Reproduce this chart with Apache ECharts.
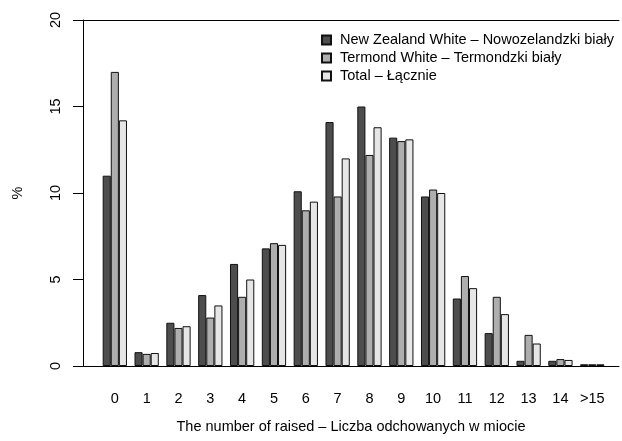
<!DOCTYPE html>
<html>
<head>
<meta charset="utf-8">
<script src="https://cdn.jsdelivr.net/npm/echarts@6/dist/echarts.min.js"></script>
<style>
html,body{margin:0;padding:0;background:#fff;}
#chart{width:622px;height:441px;}
</style>
</head>
<body>
<div id="chart"></div>
<script>
var categories = ['0','1','2','3','4','5','6','7','8','9','10','11','12','13','14','>15'];
var newZealandWhite = [11.0, 0.8, 2.5, 4.1, 5.9, 6.8, 10.1, 14.1, 15.0, 13.2, 9.8, 3.9, 1.9, 0.3, 0.3, 0.1];
var termondWhite    = [17.0, 0.7, 2.2, 2.8, 4.0, 7.1, 9.0, 9.8, 12.2, 13.0, 10.2, 5.2, 4.0, 1.8, 0.4, 0.1];
var total           = [14.2, 0.75, 2.3, 3.5, 5.0, 7.0, 9.5, 12.0, 13.8, 13.1, 10.0, 4.5, 3.0, 1.3, 0.35, 0.1];
var seriesNames = ['New Zealand White – Nowozelandzki biały', 'Termond White – Termondzki biały', 'Total – Łącznie'];
var yTicks = [0, 5, 10, 15, 20];

function toPoints(arr){ return arr.map(function(v,i){ return [i, v]; }); }

var font = 'Liberation Sans, Arial, Helvetica, sans-serif';
var fs = 14.5;
var chart = echarts.init(document.getElementById('chart'), null, {renderer:'canvas'});
var colors = ['#4D4D4D', '#AEAEAE', '#E6E6E6'];
var datasets = [newZealandWhite, termondWhite, total];

var series = datasets.map(function(d, k){
  return {
    name: seriesNames[k],
    type: 'bar',
    xAxisIndex: 0,
    data: toPoints(d),
    barWidth: 8.1,
    barGap: '0%',
    itemStyle: { color: colors[k], borderColor: '#111', borderWidth: 1 },
    emphasis: { disabled: true },
    animation: false
  };
});

chart.setOption({
  animation: false,
  textStyle: { fontFamily: font },
  grid: { left: 83, right: 0, top: 20, bottom: 75 },
  legend: {
    orient: 'vertical',
    left: 316,
    top: 27,
    itemWidth: 9,
    itemHeight: 9,
    itemGap: 2,
    icon: 'rect',
    data: seriesNames,
    textStyle: { fontFamily: font, fontSize: fs, lineHeight: 16, color: '#000', padding: [0,0,0,4] }
  },
  xAxis: [
    {
      type: 'value',
      position: 'bottom',
      min: -1,
      max: 15.84,
      interval: 1,
      axisLine: { show: true, onZero: false, lineStyle: { color: '#000', width: 1 } },
      axisTick: { show: false },
      splitLine: { show: false },
      axisLabel: {
        margin: 25,
        fontSize: fs,
        color: '#000',
        fontFamily: font,
        showMinLabel: true,
        showMaxLabel: true,
        formatter: function(v){
          if (Math.abs(v - Math.round(v)) > 1e-6) return '';
          var i = Math.round(v);
          return (i >= 0 && i < categories.length) ? categories[i] : '';
        }
      },
      name: 'The number of raised – Liczba odchowanych w miocie',
      nameLocation: 'middle',
      nameGap: 53,
      nameTextStyle: { fontSize: fs, color: '#000', fontFamily: font }
    },
    {
      type: 'value',
      position: 'top',
      min: -1,
      max: 15.84,
      interval: 1,
      axisLine: { show: true, onZero: false, lineStyle: { color: '#000', width: 1 } },
      axisTick: { show: false },
      axisLabel: { show: false },
      splitLine: { show: false }
    }
  ],
  yAxis: {
    type: 'value',
    min: 0,
    max: 20,
    interval: 5,
    axisLine: { show: true, onZero: false, lineStyle: { color: '#000', width: 1 } },
    axisTick: { show: true, length: 10, lineStyle: { color: '#000' } },
    splitLine: { show: false },
    axisLabel: {
      rotate: 90,
      margin: 20,
      fontSize: fs,
      color: '#000',
      fontFamily: font,
      formatter: function(v){ return yTicks.indexOf(v) >= 0 ? String(v) : ''; }
    },
    name: '%',
    nameLocation: 'middle',
    nameRotate: 90,
    nameGap: 58,
    nameTextStyle: { fontSize: fs, color: '#000', fontFamily: font }
  },
  series: series
});
</script>
</body>
</html>
